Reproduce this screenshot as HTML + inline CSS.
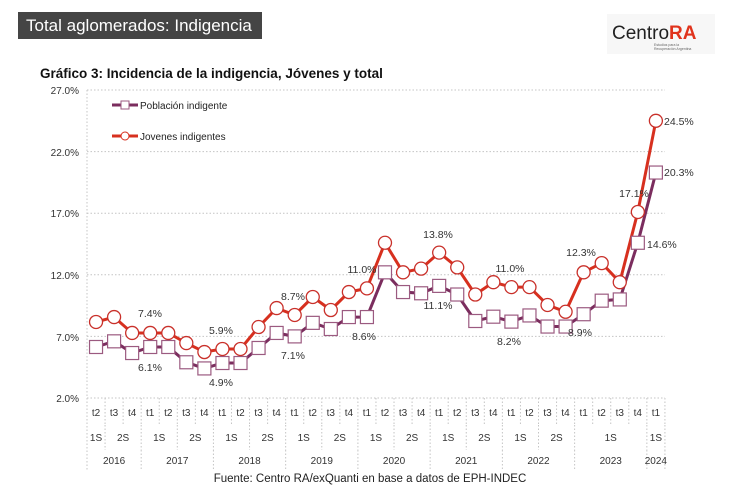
<!DOCTYPE html>
<html><head><meta charset="utf-8"><style>
body{margin:0;background:#fff;width:730px;height:500px;overflow:hidden;font-family:"Liberation Sans",sans-serif}
svg{position:absolute;left:0;top:0}
</style></head><body>
<svg id="s" width="730" height="500" xmlns="http://www.w3.org/2000/svg" font-family="Liberation Sans, sans-serif">
<rect x="18" y="12" width="244" height="27" fill="#454545"/>
<text x="26" y="31" font-size="17" fill="#fff">Total aglomerados: Indigencia</text>
<rect x="607" y="14" width="108" height="40" fill="#f7f7f7"/>
<text x="612" y="39" font-size="19" fill="#222">Centro<tspan fill="#e0331c" font-weight="bold">RA</tspan></text>
<text x="654" y="46" font-size="3.5" fill="#666">Estudios para la</text>
<text x="654" y="50" font-size="3.5" fill="#666">Recuperación Argentina</text>
<text x="40" y="78" font-size="13.5" font-weight="bold" fill="#111">Gráfico 3: Incidencia de la indigencia, Jóvenes y total</text>
<g font-size="10" fill="#333" text-anchor="end">
<text x="79" y="94">27.0%</text><text x="79" y="156">22.0%</text><text x="79" y="217">17.0%</text>
<text x="79" y="279">12.0%</text><text x="79" y="341">7.0%</text><text x="79" y="402">2.0%</text>
</g>
<g id="grid" stroke="#c4c4c4" stroke-dasharray="1.5,2" stroke-width="1"></g>
<line x1="112" y1="105" x2="138" y2="105" stroke="#7b2d5e" stroke-width="3"/>
<rect x="121" y="101" width="8" height="8" fill="#fff" stroke="#9b5a80"/>
<line x1="112" y1="136" x2="138" y2="136" stroke="#d7301f" stroke-width="3"/>
<circle cx="125" cy="136" r="4" fill="#fff" stroke="#d7301f"/>
<text x="140" y="109" font-size="10" fill="#222">Población indigente</text>
<text x="140" y="140" font-size="10" fill="#222">Jovenes indigentes</text>
<g id="series"></g>
<g font-size="10.5" fill="#333" text-anchor="middle">
<text x="150" y="317">7.4%</text><text x="150" y="371">6.1%</text>
<text x="221" y="334">5.9%</text><text x="221" y="386">4.9%</text>
<text x="293" y="300">8.7%</text><text x="293" y="359">7.1%</text>
<text x="362" y="273">11.0%</text><text x="364" y="340">8.6%</text>
<text x="438" y="238">13.8%</text><text x="438" y="309">11.1%</text>
<text x="510" y="272">11.0%</text><text x="509" y="345">8.2%</text>
<text x="581" y="256">12.3%</text><text x="580" y="336">8.9%</text>
<text x="634" y="197">17.1%</text>
</g>
<g font-size="10.5" fill="#333">
<text x="647" y="248">14.6%</text><text x="664" y="125">24.5%</text><text x="664" y="176">20.3%</text>
</g>
<g id="xl" font-size="10" fill="#333" text-anchor="middle"></g>
<text x="370" y="482" font-size="11.5" fill="#222" text-anchor="middle">Fuente: Centro RA/exQuanti en base a datos de EPH-INDEC</text>
</svg>
<script>
var NS="http://www.w3.org/2000/svg";
function el(p,t,a){var e=document.createElementNS(NS,t);for(var k in a)e.setAttribute(k,a[k]);p.appendChild(e);return e;}
var X0=87,W=18.06,N=32;
function X(i){return X0+W*(i+0.5);}
function Y(v){return 398-(v-2)*12.32;}
var g=document.getElementById('grid');
[27,22,17,12,7,2].forEach(function(v){el(g,'line',{x1:X0,x2:665,y1:Y(v),y2:Y(v)});});
el(g,'line',{x1:X0,x2:X0,y1:90,y2:470});
var cats=["t2","t3","t4"];for(var y=0;y<6;y++)cats=cats.concat(["t1","t2","t3","t4"]);
cats=cats.concat(["t1","t2","t3","t4","t1"]);
var xl=document.getElementById('xl');
cats.forEach(function(c,i){var t=el(xl,'text',{x:X(i),y:416});t.textContent=c;});
for(var k=1;k<=N;k++)el(g,'line',{x1:X0+W*k,x2:X0+W*k,y1:398,y2:425});
var sems=[[0,1,"1S"],[1,3,"2S"]];var s=3;
for(var y=0;y<6;y++){sems.push([s,s+2,"1S"]);sems.push([s+2,s+4,"2S"]);s+=4;}
sems.push([s,s+4,"1S"]);sems.push([s+4,s+5,"1S"]);
sems.forEach(function(a){var t=el(xl,'text',{x:X0+W*(a[0]+a[1])/2,y:441});t.textContent=a[2];el(g,'line',{x1:X0+W*a[1],x2:X0+W*a[1],y1:425,y2:450});});
var yrs=[[0,3,"2016"]];s=3;for(var y=2017;y<=2023;y++){yrs.push([s,s+4,""+y]);s+=4;}yrs.push([s,s+1,"2024"]);
yrs.forEach(function(a){var t=el(xl,'text',{x:X0+W*(a[0]+a[1])/2,y:464});t.textContent=a[2];el(g,'line',{x1:X0+W*a[1],x2:X0+W*a[1],y1:450,y2:470});});
var J=[8.17,8.57,7.28,7.28,7.28,6.46,5.73,5.98,5.98,7.76,9.3,8.74,10.2,9.14,10.6,10.9,14.6,12.2,12.5,13.8,12.6,10.4,11.4,11.0,11.0,9.55,9.0,12.2,12.95,11.4,17.1,24.5];
var P=[6.14,6.6,5.65,6.14,6.14,4.9,4.4,4.84,4.84,6.06,7.28,7.0,8.1,7.6,8.57,8.57,12.2,10.6,10.5,11.1,10.4,8.25,8.6,8.2,8.7,7.8,7.8,8.8,9.9,10.0,14.6,20.3];
var sg=document.getElementById('series');
function pts(a){return a.map(function(v,i){return X(i).toFixed(1)+","+Y(v).toFixed(1);}).join(" ");}
el(sg,'polyline',{points:pts(P),fill:"none",stroke:"#7b2d5e","stroke-width":3});
el(sg,'polyline',{points:pts(J),fill:"none",stroke:"#d7301f","stroke-width":3});
P.forEach(function(v,i){el(sg,'rect',{x:X(i)-6.5,y:Y(v)-6.5,width:13,height:13,fill:"#fff",stroke:"#9b5a80","stroke-width":1.2});});
J.forEach(function(v,i){el(sg,'circle',{cx:X(i),cy:Y(v),r:6.5,fill:"#fff",stroke:"#c9302a","stroke-width":1.3});});
</script>
</body></html>
